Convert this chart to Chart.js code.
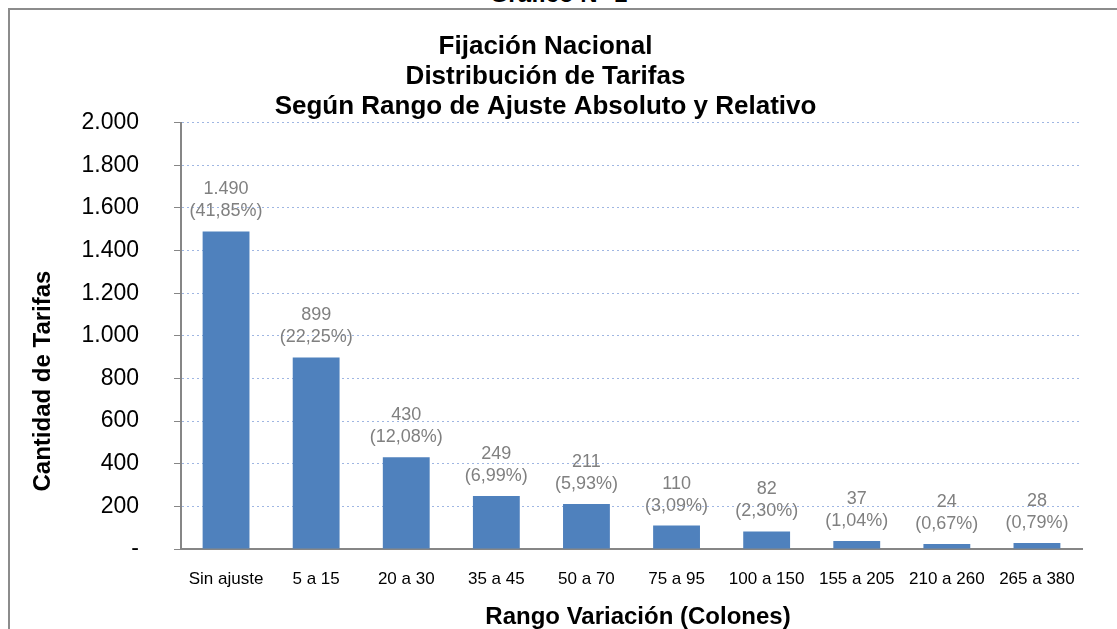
<!DOCTYPE html>
<html>
<head>
<meta charset="utf-8">
<script src="https://cdn.jsdelivr.net/npm/chart.js@4"></script>
<style>
    html, body { margin: 0; padding: 0; background: #fff; overflow: hidden; }
    #frame {
        position: absolute; left: 8px; top: 8px; width: 1120px; height: 640px;
        border-left: 2px solid #8c8c8c; border-top: 2px solid #8c8c8c;
    }
    #heading {
        position: absolute; left: 0; top: -20px; width: 1117px; text-align: center;
        font: bold 24px "Liberation Sans", Arial, sans-serif; color: #000;
    }
    #wrap { position: absolute; left: 0; top: 0; width: 1117px; height: 629px; }
</style>
</head>
<body>
<div id="heading">Gráfico N° 1</div>
<div id="frame"></div>
<div id="wrap"><canvas id="tarifas"></canvas></div>
<script>
const categorias = ["Sin ajuste", "5 a 15", "20 a 30", "35 a 45", "50 a 70", "75 a 95", "100 a 150", "155 a 205", "210 a 260", "265 a 380"];
const cantidades = [1490, 899, 430, 249, 211, 110, 82, 37, 24, 28];
const porcentajes = ["41,85", "22,25", "12,08", "6,99", "5,93", "3,09", "2,30", "1,04", "0,67", "0,79"];
const yTicks = [0, 200, 400, 600, 800, 1000, 1200, 1400, 1600, 1800, 2000];

const FUENTE = '"Liberation Sans", Arial, sans-serif';

function miles(v) {
    if (v === 0) return "-";
    return String(v).replace(/\B(?=(\d{3})+(?!\d))/g, ".");
}

// valor y porcentaje encima de cada barra
const etiquetas = {
    id: "etiquetas",
    afterDatasetsDraw(chart) {
        const ctx = chart.ctx;
        const meta = chart.getDatasetMeta(0);
        ctx.save();
        ctx.font = "18px " + FUENTE;
        ctx.fillStyle = "#808080";
        ctx.textAlign = "center";
        ctx.textBaseline = "middle";
        meta.data.forEach(function (bar, i) {
            ctx.fillText(miles(cantidades[i]), bar.x, bar.y - 42);
            ctx.fillText("(" + porcentajes[i] + "%)", bar.x, bar.y - 20);
        });
        ctx.restore();
    },
};

// titulos de los ejes, algo desplazados del centro como en el original
const titulosEjes = {
    id: "titulosEjes",
    afterDraw(chart) {
        const ctx = chart.ctx;
        ctx.save();
        ctx.font = "bold 24px " + FUENTE;
        ctx.fillStyle = "#000";
        ctx.textAlign = "center";
        ctx.textBaseline = "middle";
        ctx.fillText("Rango Variación (Colones)", 638, 617);
        ctx.translate(43, 381);
        ctx.rotate(-Math.PI / 2);
        ctx.fillText("Cantidad de Tarifas", 0, 0);
        ctx.restore();
    },
};

const ctx = document.getElementById("tarifas").getContext("2d");

new Chart(ctx, {
    type: "bar",
    data: {
        labels: categorias,
        datasets: [
            {
                data: cantidades,
                backgroundColor: "#4f81bd",
                barPercentage: 0.52,
                categoryPercentage: 1,
            },
        ],
    },
    options: {
        responsive: true,
        maintainAspectRatio: false,
        animation: false,
        layout: { padding: { left: 9, right: 35, top: 0, bottom: 0 } },
        plugins: {
            legend: { display: false },
            tooltip: { enabled: false },
            title: {
                display: true,
                text: ["Fijación Nacional", "Distribución de Tarifas", "Según Rango de Ajuste Absoluto y Relativo"],
                color: "#000",
                font: { family: FUENTE, size: 26, weight: "bold", lineHeight: 1.15 },
                padding: { top: 32, bottom: 1 },
            },
        },
        scales: {
            x: {
                grid: { display: false, drawTicks: false },
                border: { color: "#868686", width: 2 },
                ticks: {
                    color: "#000",
                    padding: 20,
                    maxRotation: 0,
                    autoSkip: false,
                    font: { family: FUENTE, size: 17 },
                },
                afterFit: function (scale) { scale.height = 80; },
            },
            y: {
                min: 0,
                max: 2000,
                afterBuildTicks: function (scale) {
                    scale.ticks = yTicks.map(function (v) { return { value: v }; });
                },
                grid: {
                    color: "#9fb6e2",
                    tickColor: "#868686",
                    tickBorderDash: [],
                    tickLength: 7,
                },
                border: { color: "#868686", width: 2, dash: [2, 3] },
                ticks: {
                    color: "#000",
                    padding: 35,
                    font: { family: FUENTE, size: 23 },
                    callback: function (v) { return miles(v); },
                },
                afterFit: function (scale) { scale.width = 172; },
            },
        },
    },
    plugins: [etiquetas, titulosEjes],
});
</script>
</body>
</html>
